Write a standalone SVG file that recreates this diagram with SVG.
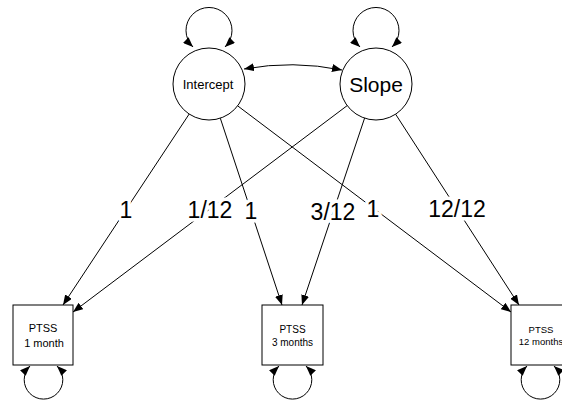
<svg xmlns="http://www.w3.org/2000/svg" width="562" height="405" viewBox="0 0 562 405">
  <style>
    .edge { fill: none; stroke: #000; stroke-width: 1; }
    .node { fill: #fff; stroke: #000; stroke-width: 1; }
    text { font-family: "Liberation Sans", Arial, sans-serif; fill: #000; text-anchor: middle; }
    .coef { font-size: 23px; stroke: #fff; stroke-width: 7; paint-order: stroke; stroke-linejoin: round; }
  </style>
  <defs>
    <marker id="arrow" viewBox="0 0 10 8" refX="10" refY="4" markerWidth="10" markerHeight="8" markerUnits="userSpaceOnUse" orient="auto-start-reverse">
      <path d="M0,0 L10,4 L0,8 z" fill="#000"/>
    </marker>
  </defs>

  <rect width="562" height="405" fill="#fff"/>

  <!-- connectors -->
  <g id="connectors">
    <!-- variance loops -->
    <path class="edge" d="M193,47 A23,23 0 1 1 225,47" marker-start="url(#arrow)" marker-end="url(#arrow)"/>
    <path class="edge" d="M360,47 A23,23 0 1 1 392,47" marker-start="url(#arrow)" marker-end="url(#arrow)"/>
    <path class="edge" d="M30,366 A19.3,19.3 0 1 0 57,366" marker-start="url(#arrow)" marker-end="url(#arrow)"/>
    <path class="edge" d="M279,366 A19.3,19.3 0 1 0 306,366" marker-start="url(#arrow)" marker-end="url(#arrow)"/>
    <path class="edge" d="M527,366 A19.3,19.3 0 1 0 554,366" marker-start="url(#arrow)" marker-end="url(#arrow)"/>
    <!-- covariance -->
    <path class="edge" d="M244,69 Q293,60 342,70" marker-start="url(#arrow)" marker-end="url(#arrow)"/>
    <!-- loadings -->
    <line class="edge" x1="189.2" y1="114" x2="63" y2="305" marker-end="url(#arrow)"/>
    <line class="edge" x1="220.3" y1="118.2" x2="282" y2="305" marker-end="url(#arrow)"/>
    <line class="edge" x1="237.6" y1="105.8" x2="511" y2="312" marker-end="url(#arrow)"/>
    <line class="edge" x1="347.2" y1="105.6" x2="73" y2="312" marker-end="url(#arrow)"/>
    <line class="edge" x1="364.6" y1="118.1" x2="302" y2="305" marker-end="url(#arrow)"/>
    <line class="edge" x1="395.6" y1="114.2" x2="519" y2="305" marker-end="url(#arrow)"/>
    <!-- loading values -->
    <text class="coef" x="126" y="218">1</text>
    <text class="coef" x="210" y="218">1/12</text>
    <text class="coef" x="251" y="219">1</text>
    <text class="coef" x="333" y="220">3/12</text>
    <text class="coef" x="373" y="217">1</text>
    <text class="coef" x="457" y="217">12/12</text>
  </g>

  <g id="intercept">
    <circle class="node" cx="209" cy="84" r="36"/>
    <text x="208" y="89" font-size="13">Intercept</text>
  </g>

  <g id="slope">
    <circle class="node" cx="376" cy="84" r="36"/>
    <text x="376" y="91.5" font-size="21">Slope</text>
  </g>

  <g id="ptss1">
    <rect class="node" x="13" y="305" width="60" height="60"/>
    <text x="43" y="332" font-size="11">PTSS</text>
    <text x="44" y="347" font-size="11">1 month</text>
  </g>

  <g id="ptss3">
    <rect class="node" x="262" y="305" width="61" height="60"/>
    <text x="292.5" y="333" font-size="10">PTSS</text>
    <text x="292.5" y="346" font-size="10">3 months</text>
  </g>

  <g id="ptss12">
    <rect class="node" x="511" y="305" width="60" height="60"/>
    <text x="541" y="333" font-size="9.5">PTSS</text>
    <text x="541" y="345" font-size="9.5">12 months</text>
  </g>
</svg>
